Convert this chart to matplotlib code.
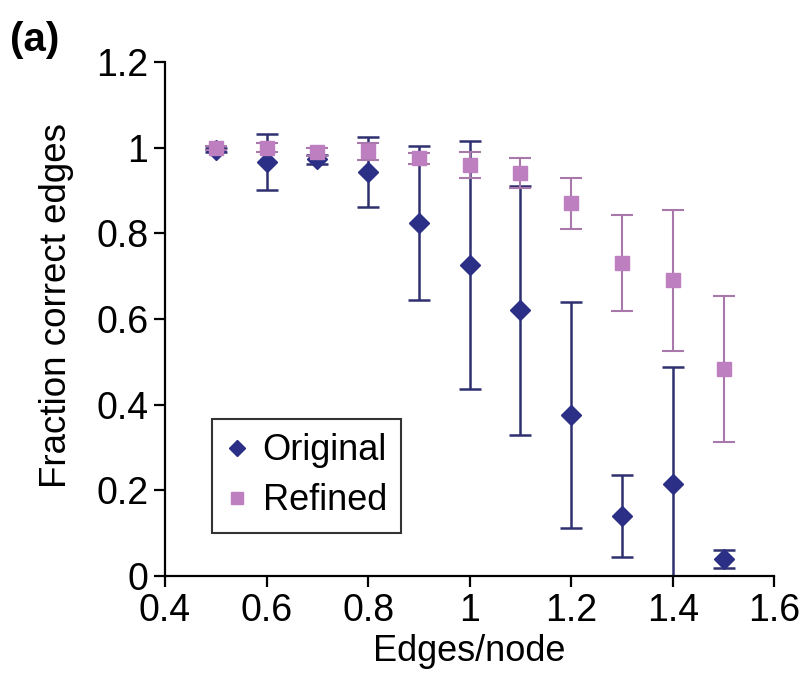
import matplotlib
matplotlib.use("Agg")
import matplotlib.pyplot as plt
from matplotlib.lines import Line2D

plt.rcParams['font.family'] = ['Liberation Sans', 'DejaVu Sans']

edges_per_node = [0.5, 0.6, 0.7, 0.8, 0.9, 1.0, 1.1, 1.2, 1.3, 1.4, 1.5]

original_mean = [0.995, 0.966, 0.973, 0.943, 0.825, 0.726, 0.62, 0.376, 0.14, 0.215, 0.04]
original_err = [0.005, 0.065, 0.01, 0.082, 0.18, 0.29, 0.29, 0.264, 0.095, 0.273, 0.02]

refined_mean = [1.0, 1.0, 0.99, 0.992, 0.975, 0.96, 0.94, 0.87, 0.73, 0.69, 0.483]
refined_err = [0.005, 0.01, 0.01, 0.02, 0.012, 0.03, 0.035, 0.06, 0.112, 0.165, 0.17]

blue = '#2c2f86'
pink = '#bd7fc0'

fig = plt.figure(figsize=(8.07, 6.81), dpi=100)
ax = fig.add_axes([0.2045, 0.154, 0.755, 0.755])

ax.errorbar(edges_per_node, original_mean, yerr=original_err, fmt='D',
            color=blue, ecolor='#2e3070', markersize=10, elinewidth=1.8,
            capsize=8, capthick=1.8, zorder=2)
ax.errorbar(edges_per_node, refined_mean, yerr=refined_err, fmt='s',
            color=pink, ecolor='#a878aa', markersize=10, elinewidth=1.5,
            capsize=8, capthick=1.5, zorder=3)

ax.set_xlim(0.4, 1.6)
ax.set_ylim(0, 1.2)
ax.set_xticks([0.4, 0.6, 0.8, 1.0, 1.2, 1.4, 1.6])
ax.set_xticklabels(['0.4', '0.6', '0.8', '1', '1.2', '1.4', '1.6'])
ax.set_yticks([0, 0.2, 0.4, 0.6, 0.8, 1.0, 1.2])
ax.set_yticklabels(['0', '0.2', '0.4', '0.6', '0.8', '1', '1.2'])

for side in ['top', 'right']:
    ax.spines[side].set_visible(False)
for side in ['left', 'bottom']:
    ax.spines[side].set_linewidth(1.6)
ax.tick_params(direction='out', length=8, width=1.6, labelsize=27, pad=4)

ax.set_xlabel('Edges/node', fontsize=26, labelpad=4)
ax.set_ylabel('Fraction correct edges', fontsize=26.5)
ax.yaxis.set_label_coords(-0.15, 0.527)

handles = [
    Line2D([], [], linestyle='none', marker='D', color=blue, markersize=8),
    Line2D([], [], linestyle='none', marker='s', color=pink, markersize=8),
]
leg = ax.legend(handles, ['Original', 'Refined'], loc='lower left',
                bbox_to_anchor=(0.077, 0.084), fontsize=26,
                frameon=True, fancybox=False, edgecolor='black',
                handlelength=0.6, handletextpad=0.4, borderpad=0.4,
                labelspacing=0.42, borderaxespad=0)
leg.get_frame().set_linewidth(1.5)

fig.text(0.012, 0.925, '(a)', fontsize=29, fontweight='bold')

fig.savefig('out.png', dpi=100)
